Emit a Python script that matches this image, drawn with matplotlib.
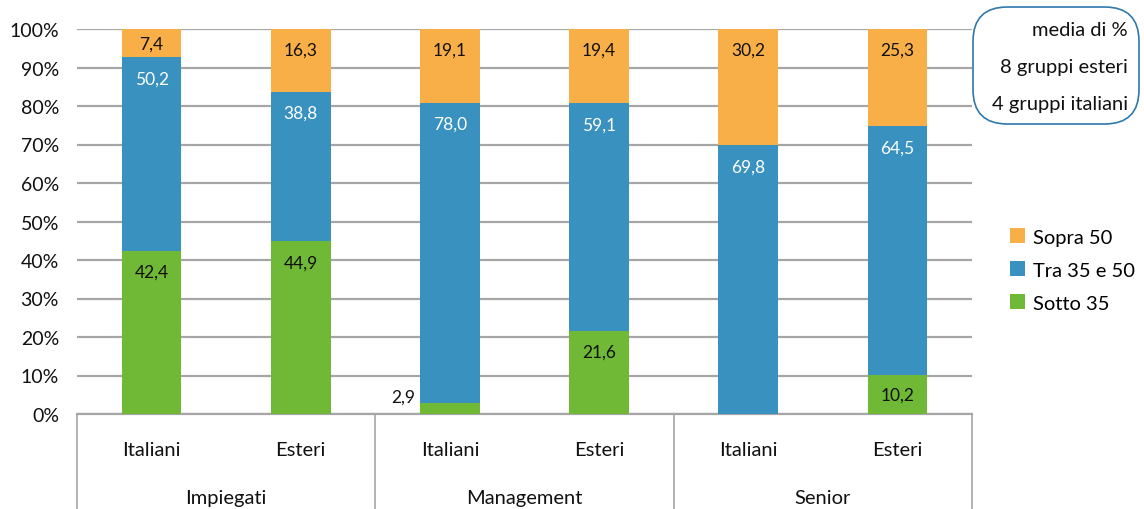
import matplotlib
matplotlib.use("Agg")
import matplotlib.pyplot as plt
from matplotlib.patches import FancyBboxPatch, Patch
from matplotlib.transforms import blended_transform_factory, offset_copy
import numpy as np

plt.rcParams['font.family'] = ['Lato', 'DejaVu Sans']

# Data
groups = ["Impiegati", "Management", "Senior"]
origins = ["Italiani", "Esteri"]
sotto_35 = [42.4, 44.9, 2.9, 21.6, 0.0, 10.2]
tra_35_50 = [50.2, 38.8, 78.0, 59.1, 69.8, 64.5]
sopra_50 = [7.4, 16.3, 19.1, 19.4, 30.2, 25.3]
series_names = ["Sotto 35", "Tra 35 e 50", "Sopra 50"]
y_ticks = [0, 10, 20, 30, 40, 50, 60, 70, 80, 90, 100]
note_lines = ["media di %", "8 gruppi esteri", "4 gruppi italiani"]

colors = ["#70B936", "#3891BF", "#F9AF47"]
label_colors = ["#111111", "#FFFFFF", "#111111"]
grid_color = "#A6A6A6"

W, H, DPI = 1144, 510, 100
fig = plt.figure(figsize=(W / DPI, H / DPI), dpi=DPI)
ax = fig.add_axes([77 / W, (H - 415) / H, 895 / W, 385 / H])

n = len(sotto_35)
x = np.arange(n)
bar_w = 0.40
series = [sotto_35, tra_35_50, sopra_50]

bottoms = np.zeros(n)
for vals, col, lcol in zip(series, colors, label_colors):
    vals = np.array(vals)
    ax.bar(x, vals, bar_w, bottom=bottoms, color=col, zorder=3)
    for i, v in enumerate(vals):
        if v <= 0:
            continue
        top = bottoms[i] + v
        if v < 5:
            # thin segment: label sits left of the bar
            tr = offset_copy(ax.transData, fig=fig, x=-5, y=6, units='dots')
            ax.text(x[i] - bar_w / 2, top, f"{v:.1f}".replace(".", ","),
                    transform=tr, ha="right", va="center", fontsize=12.5,
                    color="#111111", zorder=4)
            continue
        seg_px = v * 3.85
        off = min(21, seg_px / 2)
        tr = offset_copy(ax.transData, fig=fig, x=0, y=-off, units='dots')
        ax.text(x[i], top, f"{v:.1f}".replace(".", ","), transform=tr,
                ha="center", va="center", fontsize=12.5, color=lcol, zorder=4)
    bottoms += vals

ax.set_xlim(-0.5, n - 0.5)
ax.set_ylim(0, 100)
ax.set_yticks(y_ticks)
ax.set_yticklabels([f"{t}%" for t in y_ticks], fontsize=14, color="#111111")
ax.yaxis.grid(True, color=grid_color, linewidth=1.6, zorder=0)
ax.set_axisbelow(True)
ax.tick_params(axis="y", length=0, pad=13)
ax.tick_params(axis="x", length=0, labelbottom=False)
for s in ["top", "right", "left"]:
    ax.spines[s].set_visible(False)
ax.spines["bottom"].set_color(grid_color)
ax.spines["bottom"].set_linewidth(1.6)

# Two-level category axis
bt = blended_transform_factory(ax.transData, ax.transAxes)
for b in [-0.5, 1.5, 3.5, 5.5]:
    ax.plot([b, b], [0, -0.26], transform=bt, color=grid_color,
            linewidth=1.2, clip_on=False)
for i in range(n):
    ax.text(x[i], -0.091, origins[i % 2], transform=bt, ha="center",
            va="center", fontsize=14.5, color="#111111")
for g, name in enumerate(groups):
    ax.text(2 * g + 0.5, -0.216, name, transform=bt, ha="center",
            va="center", fontsize=14.5, color="#111111")

# Legend
handles = [Patch(facecolor=colors[k], edgecolor="none", label=series_names[k])
           for k in (2, 1, 0)]
fig.legend(handles=handles, loc="center left",
           bbox_to_anchor=(992 / W, 1 - 271 / H), frameon=False,
           fontsize=14.5, handlelength=0.75, handleheight=0.75,
           handletextpad=0.4, labelspacing=0.78)

# Note box
box = FancyBboxPatch((973 / W, 1 - 125 / H), 166 / W, 117 / H,
                     boxstyle="round,pad=0,rounding_size=0.03",
                     transform=fig.transFigure, facecolor="white",
                     edgecolor="#2F78AE", linewidth=1.2,
                     mutation_aspect=W / H)
fig.patches.append(box)
for k, line in enumerate(note_lines):
    fig.text(1128 / W, 1 - (30 + 37.5 * k) / H, line, ha="right",
             va="center", fontsize=14.5, color="#111111")

fig.savefig("out.png", dpi=DPI)
